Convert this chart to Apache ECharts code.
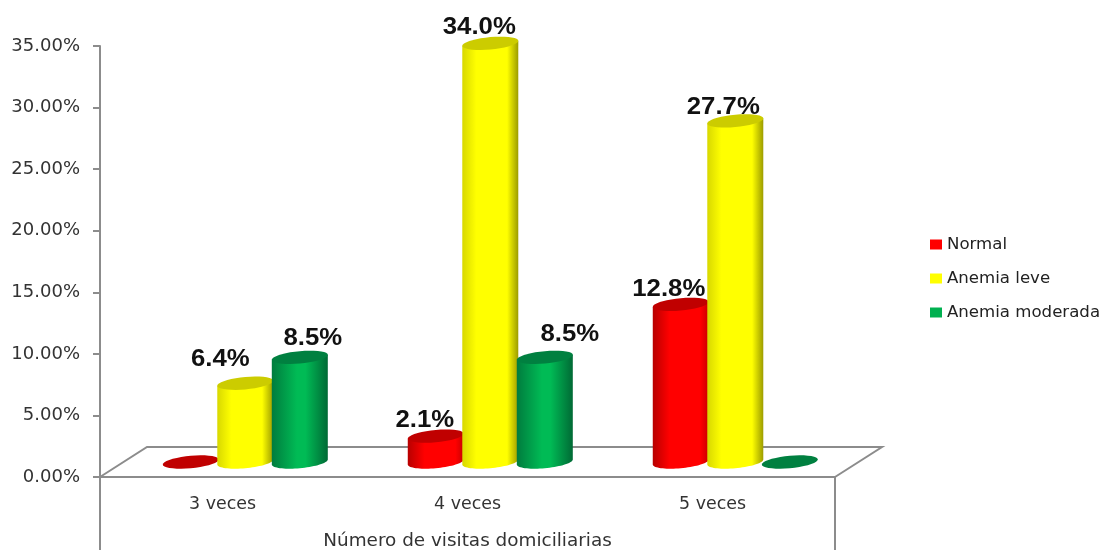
<!DOCTYPE html>
<html><head><meta charset="utf-8">
<style>html,body{margin:0;padding:0;background:#fff}#c{width:1104px;height:550px}</style>
<script src="https://cdn.jsdelivr.net/npm/echarts@6/dist/echarts.min.js"></script>
</head><body><div id="c"></div>
<script>
const categories = ['3 veces', '4 veces', '5 veces'];
const normal = [0, 2.1, 12.8];
const anemiaLeve = [6.4, 34.0, 27.7];
const anemiaModerada = [8.5, 8.5, 0];
const yTicks = [0, 5, 10, 15, 20, 25, 30, 35];
const axisTitle = 'Número de visitas domiciliarias';

const labelShift = {
  Normal: [[0, 0], [-11, -15.5], [-12, -15]],
  'Anemia leve': [[-25, -23.5], [-11, -16], [-12, -13.5]],
  'Anemia moderada': [[13, -18.5], [25, -22.5], [0, 0]]
};
const look = {
  Normal: {base: '#ff0000', top: '#c00000', stops: [[0, '#b80000'], [0.3, '#ff0000'], [0.85, '#ff0000'], [1, '#c80000']]},
  'Anemia leve': {base: '#ffff00', top: '#cccc00', stops: [[0, '#d8d800'], [0.25, '#ffff00'], [0.8, '#ffff00'], [1, '#9c9c00']]},
  'Anemia moderada': {base: '#00b050', top: '#008040', stops: [[0, '#007c3e'], [0.45, '#00bb55'], [0.6, '#00bb55'], [1, '#006a35']]}
};
const AXIS = '#8c8c8c', RX = 28, RY = 6.2, TILT = 0.09;

function ellipsePts(cx, cy, from, to) {
  const pts = [];
  for (let i = 0; i <= 36; i++) {
    const t = from + (to - from) * i / 36;
    const ex = RX * Math.cos(t), ey = RY * Math.sin(t);
    pts.push([cx + ex, cy + ey - ex * TILT]);
  }
  return pts;
}
function cylinder(slot, name) {
  return function (params, api) {
    const cat = api.value(0), val = api.value(1);
    const p = api.coord([cat, val]), z = api.coord([cat, 0]);
    const s = api.size([1, 0]);
    const cx = p[0] + s[0] * 0.093 + slot * s[0] * 0.2225;
    const topY = p[1] - 15, baseY = z[1] - 15;
    const c = look[name];
    const children = [];
    if (val > 0) {
      const body = ellipsePts(cx, baseY, 0, Math.PI)
        .concat([[cx - RX, topY + RX * TILT], [cx + RX, topY - RX * TILT]]);
      children.push({type: 'polygon', shape: {points: body}, style: {
        fill: {type: 'linear', x: 0, y: 0, x2: 1, y2: 0,
          colorStops: c.stops.map(a => ({offset: a[0], color: a[1]}))}
      }});
    }
    children.push({type: 'polygon', shape: {points: ellipsePts(cx, topY, 0, Math.PI * 2)},
      style: {fill: c.top}});
    if (val > 0) {
      const sh = labelShift[name][cat];
      children.push({type: 'text', x: cx + sh[0], y: topY + sh[1], scaleX: 1.12,
        style: {text: val.toFixed(1) + '%', x: 0, y: 0, align: 'center', verticalAlign: 'middle',
          font: 'bold 23px "Liberation Sans"', fill: '#111'}});
    }
    return {type: 'group', children};
  };
}
function floor(params, api) {
  const g = params.coordSys, L = g.x, R = g.x + g.width, B = g.y + g.height;
  const dx = 47, dy = -30;
  const st = {stroke: AXIS, lineWidth: 2, fill: null};
  return {type: 'group', children: [
    {type: 'polyline', shape: {points: [[L, B], [L + dx, B + dy], [R + dx, B + dy], [R, B]]}, style: st},
    {type: 'line', shape: {x1: L, y1: B, x2: L, y2: 550}, style: st},
    {type: 'line', shape: {x1: R, y1: B, x2: R, y2: 550}, style: st}
  ]};
}
const rows = a => a.map((v, i) => [i, v]);
function barSeries(name, arr, slot) {
  return {type: 'custom', name, data: rows(arr), renderItem: cylinder(slot, name),
    encode: {x: 0, y: 1}, itemStyle: {color: look[name].base}, clip: false, silent: true};
}
const chart = echarts.init(document.getElementById('c'), null, {renderer: 'canvas'});
chart.setOption({
  animation: false,
  backgroundColor: '#fff',
  grid: {left: 100, top: 46, width: 735, height: 431, containLabel: false, outerBoundsMode: 'none'},
  legend: {
    data: ['Normal', 'Anemia leve', 'Anemia moderada'],
    orient: 'vertical', left: 930, top: 236, itemWidth: 12, itemHeight: 10, itemGap: 17,
    icon: 'rect', padding: 0,
    textStyle: {fontFamily: 'DejaVu Sans', fontSize: 16.6, color: '#222'}
  },
  xAxis: {
    type: 'category', data: categories,
    name: axisTitle, nameLocation: 'middle', nameGap: 55,
    nameTextStyle: {fontFamily: 'DejaVu Sans', fontSize: 18.4, color: '#333'},
    axisLine: {lineStyle: {color: AXIS, width: 2}},
    axisTick: {length: 38, lineStyle: {color: AXIS, width: 2}},
    axisLabel: {fontFamily: 'DejaVu Sans', fontSize: 17.4, color: '#333', margin: 19}
  },
  yAxis: {
    type: 'value', min: yTicks[0], max: yTicks[yTicks.length - 1], interval: yTicks[1] - yTicks[0],
    axisLine: {show: true, lineStyle: {color: AXIS, width: 2}},
    axisTick: {show: true, length: 7, lineStyle: {color: AXIS, width: 2}},
    splitLine: {show: false},
    axisLabel: {formatter: v => v.toFixed(2) + '%', fontFamily: 'DejaVu Sans', fontSize: 18, color: '#333', margin: 20}
  },
  series: [
    {type: 'custom', name: 'floor', data: [[0, 0]], renderItem: floor, encode: {x: 0, y: 1}, clip: false, silent: true},
    barSeries('Normal', normal, -1),
    barSeries('Anemia leve', anemiaLeve, 0),
    barSeries('Anemia moderada', anemiaModerada, 1)
  ]
});
</script></body></html>
